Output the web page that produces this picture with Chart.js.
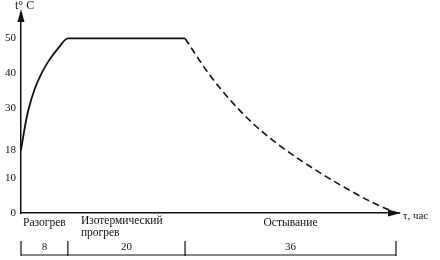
<!DOCTYPE html>
<html>
<head>
<meta charset="utf-8">
<script src="https://cdn.jsdelivr.net/npm/chart.js@4/dist/chart.umd.min.js"></script>
<style>
  html, body { margin: 0; padding: 0; background: #fff; }
  #wrap { width: 440px; height: 260px; }
</style>
</head>
<body>
<div id="wrap"><canvas id="c"></canvas></div>
<script>
// Разогрев + изотермический прогрев (сплошная линия)
const heatHours = [0, 0.7, 1.25, 2.4, 3.5, 4.7, 6.4, 8, 28];
const heatTemp  = [18, 25, 29.5, 35.8, 40, 43.5, 47.3, 50, 50];
// Остывание (пунктир)
const coolHours = [28, 32, 36, 40, 44, 48, 52, 56, 60, 64];
const coolTemp  = [50, 40, 31.8, 25, 19.5, 14.8, 10.5, 6.6, 3, 0];

const yTicks = [0, 10, 18, 30, 40, 50];
const phaseNames = ['Разогрев', 'Изотермический\nпрогрев', 'Остывание'];
const phaseHours = [8, 20, 36];

const FONT = '"Liberation Serif", "DejaVu Serif", serif';
const INK = '#111';

// стрелки осей, подписи фаз и скобка с длительностями
const decor = {
  id: 'decor',
  afterDraw(chart) {
    const { ctx, chartArea: a, scales: { x } } = chart;
    ctx.save();
    ctx.strokeStyle = INK; ctx.fillStyle = INK; ctx.lineWidth = 1.5;

    // ось X продлена до стрелки
    ctx.beginPath(); ctx.moveTo(a.right, a.bottom); ctx.lineTo(a.right + 4, a.bottom); ctx.stroke();
    ctx.beginPath();
    ctx.moveTo(a.right + 5, a.bottom);
    ctx.lineTo(a.right - 8, a.bottom - 3.5);
    ctx.lineTo(a.right - 8, a.bottom + 3.5);
    ctx.closePath(); ctx.fill();
    // стрелка оси Y
    ctx.beginPath();
    ctx.moveTo(a.left, a.top - 5);
    ctx.lineTo(a.left - 3.5, a.top + 8);
    ctx.lineTo(a.left + 3.5, a.top + 8);
    ctx.closePath(); ctx.fill();

    ctx.font = '12px ' + FONT;
    ctx.textBaseline = 'middle';
    ctx.textAlign = 'left';
    ctx.fillText('t° C', a.left - 6, a.top - 8);
    ctx.font = '11px ' + FONT;
    ctx.fillText('τ, час', a.right + 7, a.bottom + 3);

    // подписи фаз
    ctx.font = '11.5px ' + FONT;
    let start = 0;
    const edges = [0];
    phaseHours.forEach((h, i) => {
      const mid = start + h / 2;
      const lines = phaseNames[i].split('\n');
      if (lines.length > 1) {
        ctx.textAlign = 'left';
        const xl = x.getPixelForValue(start) + 13;
        lines.forEach((t, k) => ctx.fillText(t, xl, a.bottom + 8 + k * 12));
      } else {
        ctx.textAlign = 'center';
        ctx.fillText(lines[0], x.getPixelForValue(mid), a.bottom + 10);
      }
      start += h;
      edges.push(start);
    });

    // скобка с длительностями
    const yb = a.bottom + 42;
    ctx.lineWidth = 1.2;
    ctx.beginPath();
    ctx.moveTo(x.getPixelForValue(0), yb); ctx.lineTo(x.getPixelForValue(start), yb);
    edges.forEach(e => {
      const px = x.getPixelForValue(e);
      ctx.moveTo(px, yb - 14); ctx.lineTo(px, yb + 1);
    });
    ctx.stroke();
    ctx.textAlign = 'center';
    ctx.font = '11px ' + FONT;
    let s = 0;
    phaseHours.forEach(h => {
      ctx.fillText(String(h), x.getPixelForValue(s + h / 2), yb - 8);
      s += h;
    });
    ctx.restore();
  }
};

new Chart(document.getElementById('c'), {
  type: 'line',
  data: {
    datasets: [{
      data: heatHours.map((h, i) => ({ x: h, y: heatTemp[i] })),
      borderColor: INK, borderWidth: 1.8,
      pointRadius: 0, cubicInterpolationMode: 'monotone',
    }, {
      data: coolHours.map((h, i) => ({ x: h, y: coolTemp[i] })),
      borderColor: INK, borderWidth: 1.6, borderDash: [7, 4],
      pointRadius: 0, cubicInterpolationMode: 'monotone',
    }],
  },
  options: {
    responsive: true, maintainAspectRatio: false, animation: false,
    layout: { padding: { top: 14, right: 44, left: 0, bottom: 0 } },
    plugins: { legend: { display: false }, tooltip: { enabled: false } },
    scales: {
      x: {
        type: 'linear', min: 0, max: 64,
        grid: { display: false, drawTicks: false },
        border: { color: INK, width: 1.5 },
        ticks: { display: false },
        afterFit: (s) => { s.height = 47; },
      },
      y: {
        min: 0, max: 57,
        grid: { display: false, drawTicks: false },
        border: { color: INK, width: 1.5 },
        afterBuildTicks: (s) => { s.ticks = yTicks.map(v => ({ value: v })); },
        ticks: { color: INK, padding: 5, font: { family: FONT, size: 11 } },
        afterFit: (s) => { s.width = 21; },
      },
    },
  },
  plugins: [decor],
});
</script>
</body>
</html>
